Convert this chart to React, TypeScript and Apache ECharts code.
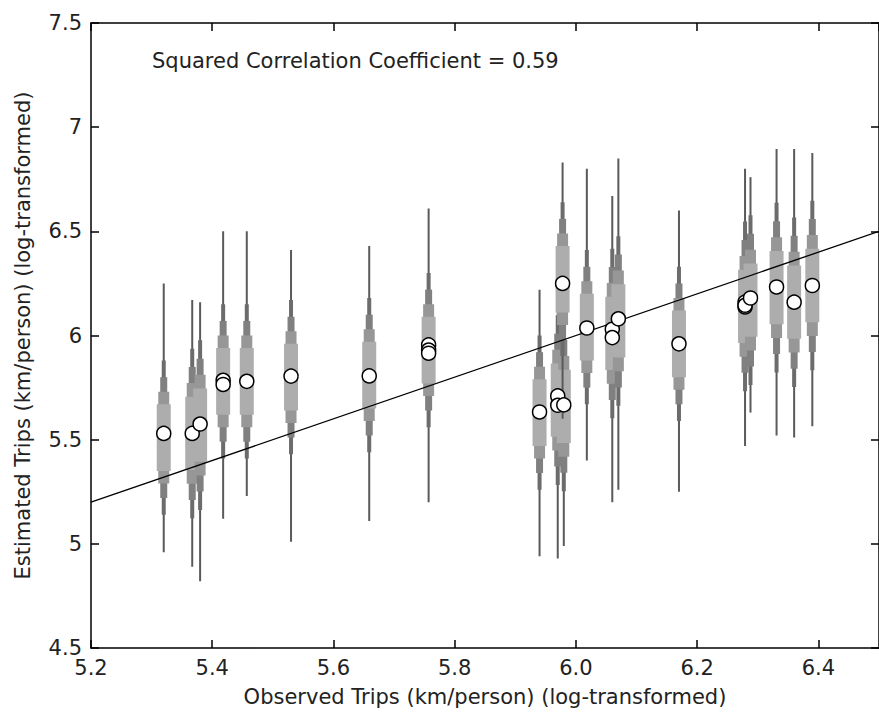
import React, { useEffect, useRef } from "react";
import * as echarts from "echarts";

// Violin (posterior density strip) per observation
const violinX = [5.32, 5.367, 5.38, 5.418, 5.457, 5.53, 5.659, 5.757, 5.94, 5.97, 5.98, 5.978, 6.018, 6.06, 6.07, 6.17, 6.279, 6.288, 6.331, 6.36, 6.39];
const violinLo = [4.96, 4.89, 4.82, 5.12, 5.23, 5.01, 5.11, 5.2, 4.94, 4.93, 4.99, 5.6, 5.4, 5.2, 5.26, 5.25, 5.47, 5.63, 5.52, 5.51, 5.565];
const violinHi = [6.25, 6.17, 6.16, 6.5, 6.5, 6.41, 6.43, 6.61, 6.22, 6.35, 6.3, 6.83, 6.8, 6.67, 6.85, 6.6, 6.8, 6.76, 6.895, 6.895, 6.876];
const violinMid = [5.51, 5.53, 5.57, 5.78, 5.78, 5.8, 5.81, 5.93, 5.63, 5.69, 5.66, 6.27, 6.04, 6.01, 6.07, 5.96, 6.14, 6.17, 6.23, 6.16, 6.24];
const violinSpread = [1.0, 1.1, 1.1, 1.0, 1.0, 1.0, 1.0, 1.0, 1.0, 1.1, 1.1, 1.0, 1.0, 1.1, 1.1, 1.0, 1.1, 1.1, 1.1, 1.1, 1.1];

// Point estimates (circles)
const circleX = [5.32, 5.367, 5.38, 5.418, 5.418, 5.457, 5.53, 5.659, 5.757, 5.757, 5.757, 5.94, 5.97, 5.97, 5.98, 5.978, 6.018, 6.06, 6.06, 6.07, 6.17, 6.279, 6.279, 6.279, 6.288, 6.331, 6.36, 6.39];
const circleY = [5.53, 5.53, 5.575, 5.785, 5.765, 5.78, 5.805, 5.806, 5.955, 5.93, 5.915, 5.633, 5.71, 5.665, 5.667, 6.25, 6.036, 6.03, 5.99, 6.08, 5.96, 6.16, 6.137, 6.145, 6.18, 6.233, 6.16, 6.24];

// Identity (y = x) reference line end points
const refLine = [5.2, 6.5];

const xTitle = "Observed Trips (km/person) (log-transformed)";
const yTitle = "Estimated Trips (km/person) (log-transformed)";
const annotation = "Squared Correlation Coefficient = 0.59";

const FONT = "'DejaVu Sans', Verdana, sans-serif";
const TEXT = "#222";

// density bands: half-height in data units (times spread), half-width px, colour
const BANDS = [
  { h: 0.37, w: 2, c: "#6c6c6c" },
  { h: 0.29, w: 3.5, c: "#808080" },
  { h: 0.22, w: 5.5, c: "#979797" },
  { h: 0.16, w: 7, c: "#adadad" },
];

export default function App() {
  const ref = useRef<HTMLDivElement>(null);
  useEffect(() => {
    document.body.style.margin = "0";
    const chart = echarts.init(ref.current!, null, { renderer: "svg" });
    const violinData = violinX.map((x, i) => [x, violinLo[i], violinHi[i], violinMid[i], violinSpread[i]]);
    const circleData = circleX.map((x, i) => [x, circleY[i]]);
    const axisLine = { show: true, onZero: false, lineStyle: { color: "#000", width: 1.5 } };
    const axisTick = { show: true, inside: true, length: 8, lineStyle: { color: "#000", width: 1.5 } };
    const label = { fontSize: 21, color: TEXT, fontFamily: FONT };
    chart.setOption({
      animation: false,
      backgroundColor: "#fff",
      grid: { left: 91, right: -5, top: 23, bottom: 65, containLabel: false },
      xAxis: [
        {
          type: "value", min: 5.2, max: 6.5, interval: 0.2, position: "bottom",
          name: xTitle, nameLocation: "middle", nameGap: 38, nameTextStyle: label,
          axisLine, axisTick,
          axisLabel: { ...label, margin: 9, showMaxLabel: false, formatter: (v: number) => v.toFixed(1) },
          splitLine: { show: false },
        },
        {
          type: "value", min: 5.2, max: 6.5, interval: 0.2, position: "top",
          axisLine, axisTick, axisLabel: { show: false }, splitLine: { show: false },
        },
      ],
      yAxis: [
        {
          type: "value", min: 4.5, max: 7.5, interval: 0.5, position: "left",
          name: yTitle, nameLocation: "middle", nameGap: 58, nameTextStyle: label,
          axisLine, axisTick,
          axisLabel: { ...label, margin: 9 },
          splitLine: { show: false },
        },
        {
          type: "value", min: 4.5, max: 7.5, interval: 0.5, position: "right",
          axisLine, axisTick, axisLabel: { show: false }, splitLine: { show: false },
        },
      ],
      graphic: [
        {
          type: "text", left: 152, top: 50, z: 100,
          style: { text: annotation, fontSize: 21, fill: TEXT, fontFamily: FONT },
        },
      ],
      series: [
        {
          type: "custom",
          xAxisIndex: 0, yAxisIndex: 0,
          encode: { x: 0, y: 3 },
          data: violinData,
          z: 1,
          renderItem: (params: any, api: any) => {
            const x = api.value(0), lo = api.value(1), hi = api.value(2), mid = api.value(3), s = api.value(4);
            const pLo = api.coord([x, lo]);
            const pHi = api.coord([x, hi]);
            const children: any[] = [
              { type: "rect", shape: { x: pLo[0] - 1, y: pHi[1], width: 2, height: pLo[1] - pHi[1] }, style: { fill: "#5a5a5a" } },
            ];
            BANDS.forEach((b) => {
              const t = api.coord([x, mid + b.h * s]);
              const bt = api.coord([x, mid - b.h * s]);
              children.push({
                type: "rect",
                shape: { x: t[0] - b.w, y: t[1], width: b.w * 2, height: bt[1] - t[1] },
                style: { fill: b.c },
              });
            });
            return { type: "group", children };
          },
        },
        {
          type: "line",
          data: [[refLine[0], refLine[0]], [refLine[1], refLine[1]]],
          symbol: "none",
          lineStyle: { color: "#000", width: 1.3 },
          z: 3,
        },
        {
          type: "scatter",
          data: circleData,
          symbol: "circle",
          symbolSize: 14,
          itemStyle: { color: "#fff", borderColor: "#000", borderWidth: 1.5, opacity: 1 },
          z: 5,
        },
      ],
    });
    return () => chart.dispose();
  }, []);
  return <div ref={ref} style={{ width: 879, height: 713, overflow: "hidden" }} />;
}
